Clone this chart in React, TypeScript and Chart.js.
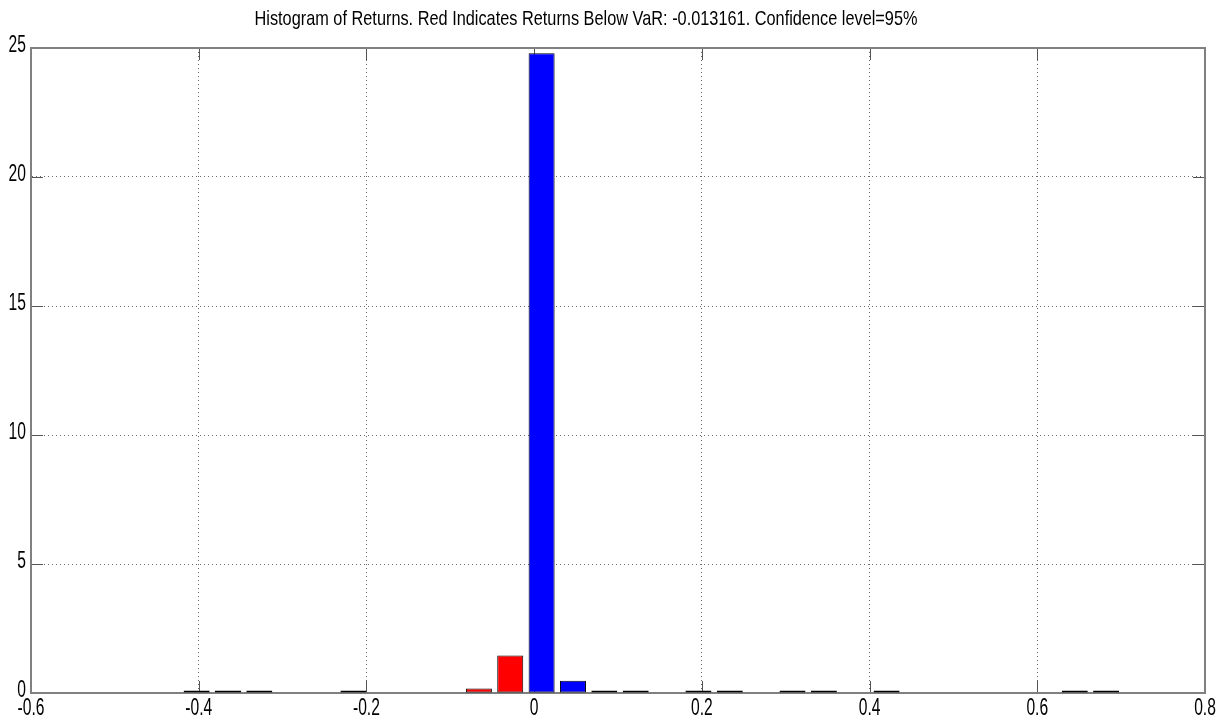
import React, { useEffect, useRef } from "react";
import { Chart, registerables } from "chart.js";

Chart.register(...registerables);

// Histogram bin centres (returns)
const binCenters = [
  -0.4025, -0.3651, -0.3277, -0.2903, -0.2529, -0.2155, -0.1781, -0.1407,
  -0.1033, -0.0659, -0.0285, 0.0089, 0.0463, 0.0837, 0.1211, 0.1585, 0.1959,
  0.2333, 0.2707, 0.3081, 0.3455, 0.3829, 0.4203, 0.4577, 0.4951, 0.5325,
  0.5699, 0.6073, 0.6447, 0.6821,
];
// Frequencies
const frequencies = [
  0.1, 0.1, 0.1, 0, 0, 0.1, 0, 0, 0, 0.17, 1.45, 24.8, 0.47, 0.1, 0.1,
  0, 0.1, 0.1, 0, 0.1, 0.1, 0, 0.1, 0, 0, 0, 0, 0, 0.1, 0.1,
];
const VAR_VALUE = "-0.013161";
const CONFIDENCE = "95";
const xTickValues = [-0.6, -0.4, -0.2, 0, 0.2, 0.4, 0.6, 0.8];
const yTickValues = [0, 5, 10, 15, 20, 25];
const titleText = `Histogram of Returns. Red Indicates Returns Below VaR: ${VAR_VALUE}. Confidence level=${CONFIDENCE}%`;

const FONT = "'Liberation Sans', Arial, sans-serif";
const fmt = (v: number) => String(Number(v.toFixed(1)));

function drawCondensed(ctx: any, text: string, x: number, y: number, size: number, sx: number, align: string, baseline: string) {
  ctx.save();
  ctx.font = `${size}px ${FONT}`;
  ctx.textAlign = align;
  ctx.textBaseline = baseline;
  ctx.fillStyle = "#000";
  ctx.translate(x, y);
  ctx.scale(sx, 1);
  ctx.fillText(text, 0, 0);
  ctx.restore();
}

const framePlugin = {
  id: "matlabFrame",
  beforeDatasetsDraw(chart: any) {
    const { ctx, chartArea } = chart;
    const xs = chart.scales.x;
    const ys = chart.scales.y;
    const len = 12;
    ctx.save();
    ctx.strokeStyle = "#555";
    ctx.lineWidth = 1;
    ctx.beginPath();
    for (const v of xTickValues) {
      const px = Math.round(xs.getPixelForValue(v)) + 0.5;
      ctx.moveTo(px, chartArea.bottom);
      ctx.lineTo(px, chartArea.bottom - len);
      ctx.moveTo(px, chartArea.top);
      ctx.lineTo(px, chartArea.top + len);
    }
    for (const v of yTickValues) {
      const py = Math.round(ys.getPixelForValue(v)) + 0.5;
      ctx.moveTo(chartArea.left, py);
      ctx.lineTo(chartArea.left + len, py);
      ctx.moveTo(chartArea.right, py);
      ctx.lineTo(chartArea.right - len, py);
    }
    ctx.stroke();
    ctx.strokeStyle = "#808080";
    ctx.lineWidth = 2;
    ctx.strokeRect(chartArea.left, chartArea.top, chartArea.right - chartArea.left, chartArea.bottom - chartArea.top);
    ctx.restore();
  },
  afterDraw(chart: any) {
    const { ctx, chartArea } = chart;
    const xs = chart.scales.x;
    const ys = chart.scales.y;
    // tick labels (MATLAB-like condensed)
    for (const t of xs.ticks) {
      drawCondensed(ctx, fmt(t.value), xs.getPixelForValue(t.value), chartArea.bottom + 16, 23, 0.68, "center", "middle");
    }
    for (const t of ys.ticks) {
      drawCondensed(ctx, fmt(t.value), chartArea.left - 5, ys.getPixelForValue(t.value) - 2, 23, 0.68, "right", "middle");
    }
    // title, condensed to the reference width
    ctx.save();
    ctx.font = `21px ${FONT}`;
    const w = ctx.measureText(titleText).width;
    ctx.restore();
    drawCondensed(ctx, titleText, 586, 25, 21, 663 / w, "center", "alphabetic");
  },
};

export default function App() {
  const ref = useRef<HTMLCanvasElement | null>(null);
  useEffect(() => {
    document.body.style.margin = "0";
    const varNum = parseFloat(VAR_VALUE);
    const chart = new Chart(ref.current as HTMLCanvasElement, {
      type: "bar",
      data: {
        datasets: [
          {
            data: binCenters.map((x, i) => ({ x, y: frequencies[i] })),
            backgroundColor: binCenters.map((x) => (x < varNum ? "#ff0000" : "#0000ff")),
            borderColor: "#000",
            borderWidth: 1,
            borderSkipped: false,
            barPercentage: 0.83,
            categoryPercentage: 1,
          },
        ],
      },
      options: {
        animation: false,
        responsive: false,
        devicePixelRatio: 1,
        layout: { padding: { left: 0, right: 23, top: 48, bottom: 0 } },
        plugins: { legend: { display: false }, tooltip: { enabled: false }, title: { display: false } },
        scales: {
          x: {
            type: "linear",
            min: -0.6,
            max: 0.8,
            offset: false,
            afterBuildTicks: (s: any) => {
              s.ticks = xTickValues.map((v) => ({ value: v }));
            },
            afterFit: (s: any) => {
              s.height = 28;
            },
            ticks: { display: false },
            grid: { color: "#666", lineWidth: 1, drawTicks: false, offset: false },
            border: { display: true, color: "#808080", width: 2, dash: [1, 3] },
          },
          y: {
            type: "linear",
            min: 0,
            max: 25,
            afterBuildTicks: (s: any) => {
              s.ticks = yTickValues.map((v) => ({ value: v }));
            },
            afterFit: (s: any) => {
              s.width = 31;
            },
            ticks: { display: false },
            grid: { color: "#666", lineWidth: 1, drawTicks: false },
            border: { display: true, color: "#808080", width: 2, dash: [1, 3] },
          },
        },
      },
      plugins: [framePlugin],
    });
    return () => chart.destroy();
  }, []);
  return (
    <div style={{ position: "absolute", left: 0, top: 0, width: 1228, height: 721, background: "#fff" }}>
      <canvas ref={ref} width={1228} height={721} />
    </div>
  );
}
